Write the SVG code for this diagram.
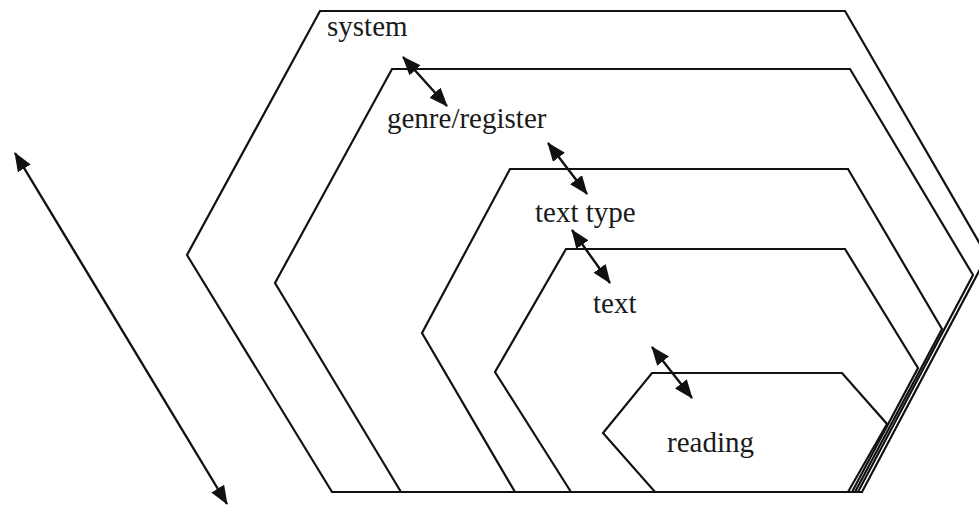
<svg xmlns="http://www.w3.org/2000/svg" width="979" height="506" viewBox="0 0 979 506">
  <style>
    .layer { fill: none; stroke: #111; stroke-width: 2.2; stroke-linejoin: miter; }
    .label { font-family: "Liberation Serif", "Times New Roman", serif; font-size: 29px; fill: #1a1a1a; }
    .link { stroke: #111; stroke-width: 2.4; fill: none; marker-start: url(#head); marker-end: url(#head); }
  </style>
  <defs>
    <marker id="head" viewBox="0 0 19 15" markerWidth="19" markerHeight="15" refX="18" refY="7.5" orient="auto-start-reverse" markerUnits="userSpaceOnUse">
      <path d="M0,0 L19,7.5 L0,15 z" fill="#111"/>
    </marker>
  </defs>
  <rect width="979" height="506" fill="#fff"/>

  <!-- nested layers, outermost first; all share the baseline at y=492 -->
  <g id="system">
    <polygon class="layer" points="320,11 845,11 987,256 862,492 332,492 187,255"/>
    <text class="label" x="327" y="36">system</text>
  </g>
  <g id="genre-register">
    <polygon class="layer" points="392,69 850,69 973,275 858,492 401,492 275,283"/>
    <text class="label" x="387" y="128">genre/register</text>
  </g>
  <g id="text-type">
    <polygon class="layer" points="510,169 848,169 942,329 855,492 515,492 422,333"/>
    <text class="label" x="535" y="222">text type</text>
  </g>
  <g id="text">
    <polygon class="layer" points="566,249 845,249 918,368 852,492 571,492 495,372"/>
    <text class="label" x="593" y="313">text</text>
  </g>
  <g id="reading">
    <polygon class="layer" points="652,373 842,373 887,424 848,492 655,492 603,433"/>
    <text class="label" x="667" y="452">reading</text>
  </g>

  <!-- two-way links between levels -->
  <g id="connectors">
    <line class="link" x1="403" y1="57" x2="447" y2="106"/>
    <line class="link" x1="548" y1="143" x2="587" y2="194"/>
    <line class="link" x1="572" y1="230" x2="610" y2="283"/>
    <line class="link" x1="652" y1="347" x2="692" y2="398"/>
    <line class="link" x1="15" y1="153" x2="227" y2="504"/>
  </g>
</svg>
